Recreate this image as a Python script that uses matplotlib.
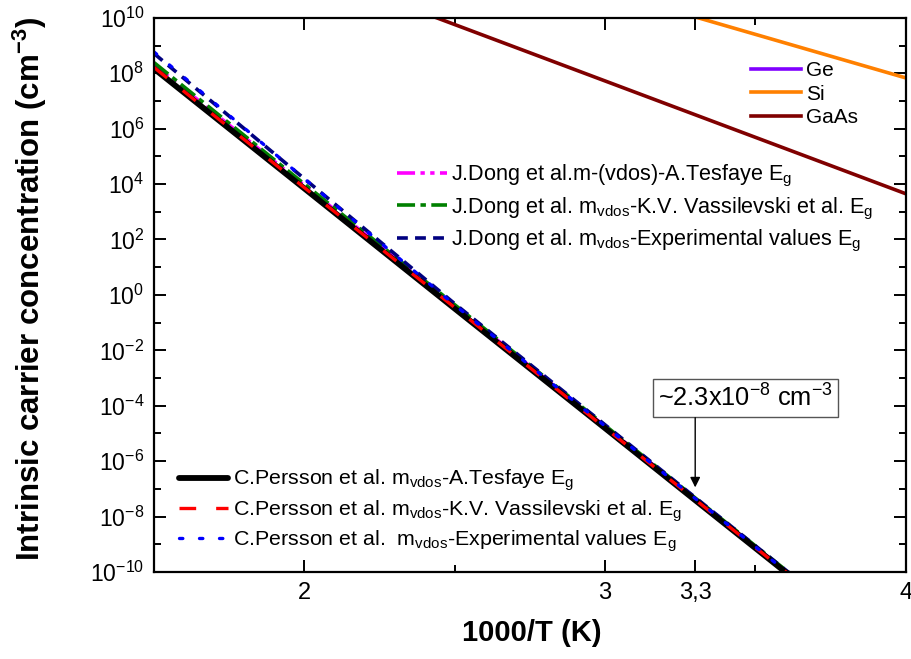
import matplotlib
matplotlib.use("Agg")
import matplotlib.pyplot as plt

plt.rcParams['font.family'] = ['Liberation Sans', 'DejaVu Sans']
plt.rcParams['mathtext.default'] = 'regular'

# ---- data ----
x_sic = [1.5, 2.0, 2.5, 3.0, 3.3, 3.6, 3.65]
persson_tesfaye = [1.45e8, 6.9e3, 0.32, 1.55e-5, 3.9e-8, 1.0e-10, 3.7e-11]
persson_vassilevski = [1.6e8, 7.4e3, 0.35, 1.6e-5, 4.1e-8, 1.05e-10, 3.9e-11]
persson_experimental = [5.8e8, 1.55e4, 0.43, 1.85e-5, 4.5e-8, 1.1e-10, 4.3e-11]
dong_tesfaye = [2.0e8, 8.9e3, 0.40, 1.8e-5, 4.5e-8, 1.1e-10, 4.2e-11]
dong_vassilevski = [2.4e8, 1.0e4, 0.44, 1.95e-5, 4.7e-8, 1.2e-10, 4.4e-11]
dong_experimental = [5.1e8, 1.55e4, 0.48, 2.05e-5, 4.9e-8, 1.2e-10, 4.5e-11]

x_si = [3.31, 4.0]
si = [1.0e10, 6.8e7]
x_gaas = [2.44, 4.0]
gaas = [1.0e10, 4.5e3]

x_ticks = [2, 3, 3.3, 4]
x_ticklabels = ['2', '3', '3,3', '4']
x_minor = [2.5, 3.5]

fig = plt.figure(figsize=(9.12, 6.59), dpi=100)
ax = fig.add_axes([0.169, 0.132, 0.824, 0.841])

ax.set_yscale('log')
ax.set_xlim(1.5, 4.0)
ax.set_ylim(1e-10, 1e10)

# SiC curves
l_dt, = ax.plot(x_sic, dong_tesfaye, color='#FF00FF', lw=2.6, ls=(0, (5, 1.5, 1.2, 1.5, 1.2, 1.5)),
                label=r'J.Dong et al.m-(vdos)-A.Tesfaye E$_g$')
l_dv, = ax.plot(x_sic, dong_vassilevski, color='#008000', lw=2.6, ls=(0, (5, 1.5, 1.5, 1.5)),
                label=r'J.Dong et al. m$_{vdos}$-K.V. Vassilevski et al. E$_g$')
l_de, = ax.plot(x_sic, dong_experimental, color='#000080', lw=2.6, ls=(0, (3, 2)),
                label=r'J.Dong et al. m$_{vdos}$-Experimental values E$_g$')
l_pt, = ax.plot(x_sic, persson_tesfaye, color='black', lw=4.2, solid_capstyle='round',
                label=r'C.Persson et al. m$_{vdos}$-A.Tesfaye E$_g$')
l_pv, = ax.plot(x_sic, persson_vassilevski, color='#FF0000', lw=2.4, ls=(0, (5, 6)),
                label=r'C.Persson et al. m$_{vdos}$-K.V. Vassilevski et al. E$_g$')
l_pe, = ax.plot(x_sic, persson_experimental, color='#0000FF', lw=2.4, ls=(0, (1, 5)),
                dash_capstyle='round',
                label=r'C.Persson et al.  m$_{vdos}$-Experimental values E$_g$')

l_ge, = ax.plot([], [], color='#8000FF', lw=2.6, label='Ge')
l_si, = ax.plot(x_si, si, color='#FF8000', lw=2.6, label='Si')
l_ga, = ax.plot(x_gaas, gaas, color='#800000', lw=2.6, label='GaAs')

# ticks
ax.set_xticks(x_ticks)
ax.set_xticklabels(x_ticklabels)
ax.set_xticks(x_minor, minor=True)
ymaj = [10.0 ** e for e in range(-10, 11, 2)]
ymin = [10.0 ** e for e in range(-9, 10, 2)]
ax.set_yticks(ymaj)
ax.set_yticklabels([r'$10^{%d}$' % e for e in range(-10, 11, 2)])
ax.set_yticks(ymin, minor=True)
ax.yaxis.set_minor_formatter(matplotlib.ticker.NullFormatter())
ax.tick_params(which='both', direction='in', top=True, right=True, width=1.4)
ax.tick_params(which='major', length=8.5, pad=7)
ax.tick_params(which='minor', length=5)
ax.tick_params(axis='x', labelsize=17)
ax.tick_params(axis='y', labelsize=16.5)
for s in ax.spines.values():
    s.set_linewidth(1.6)

ax.set_xlabel('1000/T (K)', fontsize=21, fontweight='bold')
ax.xaxis.set_label_coords(0.502, -0.085)
ax.set_ylabel(r'Intrinsic carrier concentration (cm$^{-3}$)', fontsize=22.5, fontweight='bold')
ax.yaxis.set_label_coords(-0.140, 0.51)

# legends
leg1 = ax.legend(handles=[l_ge, l_si, l_ga], loc='upper left', bbox_to_anchor=(0.781, 0.94),
                 frameon=False, fontsize=15, handlelength=2.4, handletextpad=0.2,
                 labelspacing=0.2, borderpad=0)
ax.add_artist(leg1)
leg2 = ax.legend(handles=[l_dt, l_dv, l_de], loc='upper left', bbox_to_anchor=(0.309, 0.757),
                 frameon=False, fontsize=15.6, handlelength=2.3, handletextpad=0.2,
                 labelspacing=0.28, borderpad=0)
ax.add_artist(leg2)
leg3 = ax.legend(handles=[l_pt, l_pv, l_pe], loc='upper left', bbox_to_anchor=(0.019, 0.207),
                 frameon=False, fontsize=15.4, handlelength=2.3, handletextpad=0.2,
                 labelspacing=0.22, borderpad=0)

# annotation
ax.text(3.467, 10 ** -3.72, r'~2.3x10$^{-8}$ cm$^{-3}$', fontsize=18.3, ha='center', va='center',
        bbox=dict(boxstyle='square,pad=0.2', fc='white', ec='#555555', lw=1))
ax.annotate('', xy=(3.3, 9e-8), xytext=(3.3, 10 ** -4.33),
            arrowprops=dict(arrowstyle='-|>', color='black', lw=1, mutation_scale=15))

fig.savefig('out.png', dpi=100)
